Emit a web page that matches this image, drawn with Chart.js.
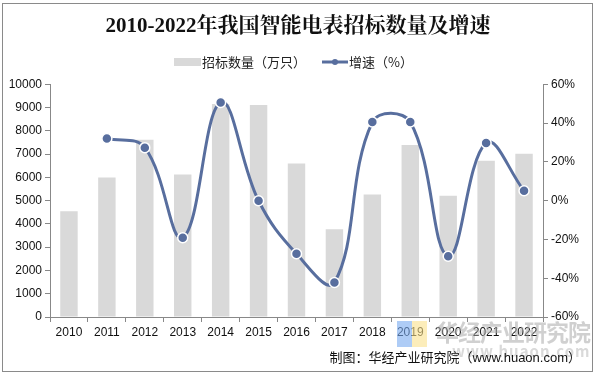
<!DOCTYPE html>
<html>
<head>
<meta charset="utf-8">
<script src="https://cdn.jsdelivr.net/npm/chart.js@4"></script>
<style>
  body { margin: 0; background: #fff; }
  #wrap { position: relative; width: 596px; height: 376px; }
  #frame { position: absolute; left: 2px; top: 3px; width: 589px; height: 367px; border: 1px solid #8a8a8a; pointer-events: none; }
  .mark { position: absolute; font-family: "Noto Sans CJK SC", sans-serif; }
  #wm { left: 436px; top: 314px; font-size: 23px; font-weight: bold; color: rgba(170,170,170,0.55); letter-spacing: -1px; }
  #wm2 { left: 452px; top: 340px; font-size: 15px; font-weight: bold; color: rgba(170,170,170,0.45); letter-spacing: 1px; }
  #logo1 { left: 397px; top: 321px; width: 15px; height: 26px; background: rgba(120,170,240,0.6); }
  #logo2 { left: 412px; top: 321px; width: 15px; height: 26px; background: rgba(250,225,140,0.6); }
  #src { right: 15px; top: 347px; font-size: 13px; color: #111; font-family: "Liberation Sans", "Noto Sans CJK SC", sans-serif; }
</style>
</head>
<body>
<div id="wrap">
  <canvas id="myChart" width="596" height="376"></canvas>
  <div class="mark" id="logo1"></div>
  <div class="mark" id="logo2"></div>
  <div class="mark" id="wm">华经产业研究院</div>
  <div class="mark" id="wm2">www.huaon.com</div>
  <div class="mark" id="src">制图：华经产业研究院（www.huaon.com）</div>
  <div id="frame"></div>
</div>
<script>
const years = ['2010', '2011', '2012', '2013', '2014', '2015', '2016', '2017', '2018', '2019', '2020', '2021', '2022'];
const bids = [4540, 5990, 7610, 6120, 9150, 9110, 6590, 3770, 5260, 7390, 5210, 6710, 7010];
const growth = [null, 32.0, 27.3, -19.1, 50.6, -0.1, -27.4, -42.2, 40.5, 40.5, -28.7, 29.7, 5.1];

const barColor = '#d9d9d9';
const lineColor = '#586e9e';
const tickFont = { family: 'Liberation Sans, Arial, sans-serif', size: 12 };

// legend drawn by hand: bar swatch, then line with a dot
const legendPlugin = {
  id: 'customLegend',
  afterDraw(chart) {
    const c = chart.ctx;
    const barDs = chart.data.datasets.find(d => d.type === 'bar');
    const lineDs = chart.data.datasets.find(d => d.type === 'line');
    const y = 62;
    c.save();
    c.font = '13px "Noto Sans CJK SC", sans-serif';
    c.textBaseline = 'middle';
    c.fillStyle = barColor;
    c.fillRect(174, y - 4, 27, 8);
    c.fillStyle = '#222';
    c.fillText(barDs.label, 202, y);
    c.strokeStyle = lineColor;
    c.lineWidth = 3;
    c.beginPath();
    c.moveTo(322, y);
    c.lineTo(348, y);
    c.stroke();
    c.fillStyle = lineColor;
    c.beginPath();
    c.arc(335, y, 3, 0, Math.PI * 2);
    c.fill();
    c.fillStyle = '#222';
    c.fillText(lineDs.label, 349, y);
    c.restore();
  }
};

const ctx = document.getElementById('myChart');

const myChart = new Chart(ctx, {
  data: {
    labels: years,
    datasets: [{
      type: 'line',
      label: '增速（%）',
      data: growth,
      yAxisID: 'y1',
      borderColor: lineColor,
      backgroundColor: lineColor,
      borderWidth: 3,
      tension: 0.4,
      pointRadius: 5,
      pointBorderColor: '#fff',
      pointBorderWidth: 1.5,
      pointBackgroundColor: lineColor,
      order: 0,
    }, {
      type: 'bar',
      label: '招标数量（万只）',
      data: bids,
      yAxisID: 'y',
      backgroundColor: barColor,
      categoryPercentage: 0.46,
      barPercentage: 1,
      order: 1,
    }]
  },
  options: {
    responsive: false,
    animation: false,
    layout: { padding: { top: 0, right: 0, bottom: 0, left: 0 } },
    plugins: {
      legend: { display: false },
      tooltip: { enabled: false },
      title: {
        display: true,
        text: '2010-2022年我国智能电表招标数量及增速',
        color: '#111',
        font: { family: '"Liberation Serif", "Noto Serif CJK SC", "Noto Sans CJK SC", serif', size: 21, weight: 'bold' },
        padding: { top: 14, bottom: 45 },
      },
    },
    scales: {
      x: {
        grid: { display: true, drawOnChartArea: false, offset: true, color: '#888', tickLength: 5 },
        border: { color: '#888' },
        ticks: { color: '#111', font: tickFont, padding: 3 },
        afterFit(s) { s.height = 59; },
      },
      y: {
        position: 'left',
        min: 0, max: 10000,
        ticks: { stepSize: 1000, color: '#111', font: tickFont, padding: 3, callback: v => String(v) },
        grid: { drawOnChartArea: false, color: '#888', tickLength: 5 },
        border: { color: '#888' },
        afterFit(s) { s.width = 50; },
      },
      y1: {
        position: 'right',
        min: -60, max: 60,
        ticks: { stepSize: 20, color: '#111', font: tickFont, padding: 3, callback: v => v + '%' },
        grid: { drawOnChartArea: false, color: '#888', tickLength: 5 },
        border: { color: '#888' },
        afterFit(s) { s.width = 53; },
      },
    }
  },
  plugins: [legendPlugin],
});
</script>
</body>
</html>
